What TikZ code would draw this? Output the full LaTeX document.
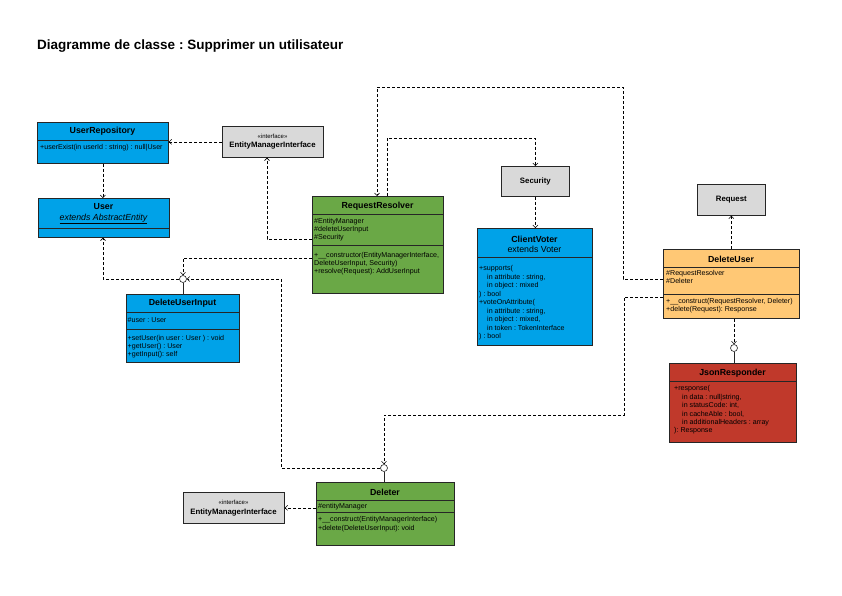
\documentclass[tikz,border=0pt]{standalone}
\usepackage{fontspec}
\setmainfont{Liberation Sans}
\usetikzlibrary{arrows.meta}
\definecolor{clsblue}{RGB}{0,162,232}
\definecolor{clsgreen}{RGB}{106,168,70}
\definecolor{clsorange}{RGB}{255,200,117}
\definecolor{clsred}{RGB}{192,57,43}
\definecolor{clsgray}{RGB}{217,217,217}
\newcommand{\memind}{\hspace*{8pt}}
\frenchspacing
\begin{document}
\begin{tikzpicture}[x=1pt,y=-1pt,
  cls/.style={draw=black!85,line width=0.7pt,anchor=north west,inner sep=0pt},
  cname/.style={font=\fontsize{8.8}{10}\selectfont\bfseries,inner sep=0pt},
  csub/.style={font=\fontsize{8.8}{10}\selectfont,inner sep=0pt},
  mem/.style={font=\fontsize{7.1}{8}\selectfont,anchor=north west,align=left,inner sep=0pt},
  sep/.style={draw=black!85,line width=0.7pt},
  dep/.style={dash pattern=on 3pt off 2pt,line width=0.6pt,-{Straight Barb[length=2.5pt,width=5pt]}},
  lolly/.style={circle,draw=black!85,fill=white,line width=0.6pt,minimum size=7pt,inner sep=0pt},
  stereo/.style={font=\fontsize{6}{7}\selectfont,inner sep=0pt},
  iname/.style={font=\fontsize{7.8}{9}\selectfont\bfseries,inner sep=0pt}]
\path[fill=white] (0,0) rectangle (842,595);
\node[font=\fontsize{13.5}{16}\selectfont\bfseries,anchor=west,inner sep=0pt] (title) at (37,46) {Diagramme de classe : Supprimer un utilisateur};

% UserRepository
\node[cls,fill=clsblue,minimum width=131pt,minimum height=41pt] (repo) at (37,122) {};
\node[cname] (repoName) at (102.5,131) {UserRepository};
\draw[sep] (37,140) -- (168,140);
\node[mem] (repoOps) at (40,144.5) {+userExist(in userId : string) : null|User};

% User
\node[cls,fill=clsblue,minimum width=131pt,minimum height=39pt] (user) at (38,198) {};
\node[cname] (userName) at (103.5,207) {User};
\node[csub] (userSub) at (103.5,219) {\itshape\underline{extends AbstractEntity}};
\draw[sep] (38,228) -- (169,228);

% EntityManagerInterface (top)
\node[cls,fill=clsgray,minimum width=101pt,minimum height=31pt] (emiA) at (222,126) {};
\node[stereo] (emiAStereo) at (272.5,136) {«interface»};
\node[iname] (emiAName) at (272.5,145) {EntityManagerInterface};

% RequestResolver
\node[cls,fill=clsgreen,minimum width=131pt,minimum height=97pt] (resolver) at (312,196) {};
\node[cname] (resolverName) at (377.5,206) {RequestResolver};
\draw[sep] (312,214) -- (443,214);
\node[mem] (resolverAttr) at (314,218.5) {\#EntityManager\\\#deleteUserInput\\\#Security};
\draw[sep] (312,245) -- (443,245);
\node[mem] (resolverOps) at (314,252.5) {+\_\_constructor(EntityManagerInterface,\\DeleteUserInput, Security)\\+resolve(Request): AddUserInput};

% Security
\node[cls,fill=clsgray,minimum width=68pt,minimum height=30pt,iname] (security) at (501,166) {Security};

% ClientVoter
\node[cls,fill=clsblue,minimum width=115pt,minimum height=117pt] (voter) at (477,228) {};
\node[cname] (voterName) at (534.5,239) {ClientVoter};
\node[csub] (voterSub) at (534.5,249) {extends Voter};
\draw[sep] (477,257) -- (592,257);
\node[mem,font=\fontsize{7.1}{8.5}\selectfont] (voterOps) at (479,265.5) {+supports(\\\memind in attribute : string,\\\memind in object : mixed\\) : bool\\+voteOnAttribute(\\\memind in attribute : string,\\\memind in object : mixed,\\\memind in token : TokenInterface\\) : bool};

% Request
\node[cls,fill=clsgray,minimum width=68pt,minimum height=31pt,iname] (request) at (697,184) {Request};

% DeleteUser
\node[cls,fill=clsorange,minimum width=136pt,minimum height=69pt] (deleteuser) at (663,249) {};
\node[cname] (deleteuserName) at (731,259) {DeleteUser};
\draw[sep] (663,267) -- (799,267);
\node[mem] (deleteuserAttr) at (666,270.5) {\#RequestResolver\\\#Deleter};
\draw[sep] (663,294) -- (799,294);
\node[mem,font=\fontsize{7.1}{7.5}\selectfont] (deleteuserOps) at (666,298.5) {+\_\_construct(RequestResolver, Deleter)\\+delete(Request): Response};

% JsonResponder
\node[cls,fill=clsred,minimum width=127pt,minimum height=79pt] (responder) at (669,363) {};
\node[cname] (responderName) at (732.5,373) {JsonResponder};
\draw[sep] (669,381) -- (796,381);
\node[mem,font=\fontsize{7.1}{8.4}\selectfont] (responderOps) at (674,385.5) {+response(\\\memind in data : null|string,\\\memind in statusCode: int,\\\memind in cacheAble : bool,\\\memind in additionalHeaders : array\\): Response};

% DeleteUserInput
\node[cls,fill=clsblue,minimum width=113pt,minimum height=68pt] (userinput) at (126,294) {};
\node[cname] (userinputName) at (182.5,303) {DeleteUserInput};
\draw[sep] (126,312) -- (239,312);
\node[mem] (userinputAttr) at (127.5,317.5) {\#user : User};
\draw[sep] (126,329) -- (239,329);
\node[mem] (userinputOps) at (127.5,335.5) {+setUser(in user : User ) : void\\+getUser() : User\\+getInput(): self};

% Deleter
\node[cls,fill=clsgreen,minimum width=138pt,minimum height=63pt] (deleter) at (316,482) {};
\node[cname] (deleterName) at (385,492) {Deleter};
\draw[sep] (316,500) -- (454,500);
\node[mem] (deleterAttr) at (318,503.5) {\#entityManager};
\draw[sep] (316,512) -- (454,512);
\node[mem,font=\fontsize{7.1}{8.5}\selectfont] (deleterOps) at (318,516.5) {+\_\_construct(EntityManagerInterface)\\+delete(DeleteUserInput): void};

% EntityManagerInterface (bottom)
\node[cls,fill=clsgray,minimum width=101pt,minimum height=31pt] (emiB) at (183,492) {};
\node[stereo] (emiBStereo) at (233.5,502) {«interface»};
\node[iname] (emiBName) at (233.5,512) {EntityManagerInterface};

% lollipops
\node[lolly] (inputport) at (183,279) {};
\draw[line width=0.7pt,black!85] (inputport.south) -- (inputport.south |- userinput.north);
\node[lolly] (deleterport) at (384,468) {};
\draw[line width=0.7pt,black!85] (deleterport.south) -- (deleterport.south |- deleter.north);
\node[lolly] (responderport) at (734,348) {};
\draw[line width=0.7pt,black!85] (responderport.south) -- (responderport.south |- responder.north);

% dependencies
\draw[dep] (emiA.west) -- (emiA.west -| repo.east);
\draw[dep] (repo.south) -- (repo.south |- user.north);
\draw[dep] (resolver.west |- 0,239) -| (emiA.south -| 267,0);
\draw[dep] (resolver.west |- 0,258) -| (inputport.north);
\draw[dep] (inputport.west) -| (user.south -| 103,0);
\draw[dep] (deleterport.west) -| (inputport.east -| 281,0) -- (inputport.east);
\draw[dep] (deleteuser.west |- 0,297) -| (624,415) -| (deleterport.north);
\draw[dep] (deleteuser.west |- 0,279) -| (623,87) -| (resolver.north -| 377,0);
\draw[dep] (resolver.north -| 387,0) |- (535,138) -| (security.north);
\draw[dep] (security.south) -- (security.south |- voter.north);
\draw[dep] (deleteuser.north) -- (request.south);
\draw[dep] (responderport.north |- deleteuser.south) -- (responderport.north);
\draw[dep] (emiB.east -| deleter.west) -- (emiB.east);
\end{tikzpicture}
\end{document}
